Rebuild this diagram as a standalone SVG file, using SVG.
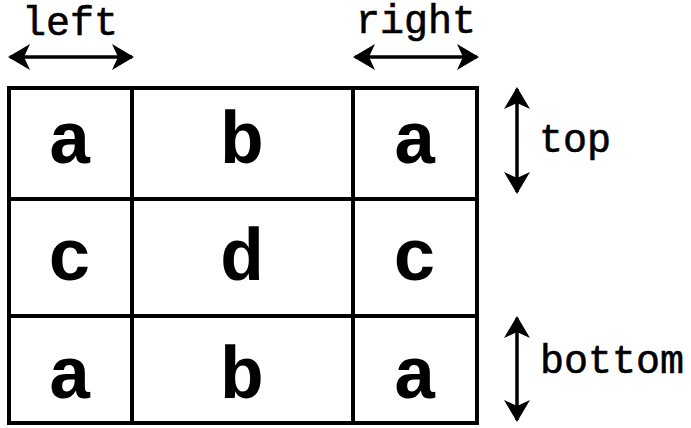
<svg xmlns="http://www.w3.org/2000/svg" width="691" height="428" viewBox="0 0 691 428">
  <defs>
    <marker id="head" viewBox="0 0 22 26" refX="20" refY="13" markerWidth="22" markerHeight="26" markerUnits="userSpaceOnUse" orient="auto-start-reverse">
      <path d="M0,0 L22,13 L0,26 L6,13 Z" fill="#000"/>
    </marker>
  </defs>
  <style>
    .grid { fill: none; stroke: #000; stroke-width: 4; }
    .cell { font-family: "Courier New", Courier, "Nimbus Mono PS", FreeMono, "Liberation Mono", monospace; font-weight: bold; font-size: 74px; text-anchor: middle; fill: #000; }
    .label { font-family: "Courier New", Courier, "Nimbus Mono PS", FreeMono, "Liberation Mono", monospace; font-size: 40px; fill: #000; stroke: #000; stroke-width: 0.6; }
    .arrow { stroke: #000; stroke-width: 3.5; fill: none; marker-start: url(#head); marker-end: url(#head); }
  </style>
  <rect width="691" height="428" fill="#fff"/>

  <!-- 3x3 tiling grid -->
  <g id="grid">
    <rect class="grid" x="9" y="88" width="468" height="335"/>
    <line class="grid" x1="132" y1="88" x2="132" y2="423"/>
    <line class="grid" x1="353" y1="88" x2="353" y2="423"/>
    <line class="grid" x1="9" y1="199" x2="477" y2="199"/>
    <line class="grid" x1="9" y1="316" x2="477" y2="316"/>
  </g>

  <g id="cells">
    <text class="cell" x="70" y="163">a</text>
    <text class="cell" x="242" y="163">b</text>
    <text class="cell" x="415" y="163">a</text>
    <text class="cell" x="70" y="280">c</text>
    <text class="cell" x="242" y="280">d</text>
    <text class="cell" x="415" y="280">c</text>
    <text class="cell" x="70" y="398">a</text>
    <text class="cell" x="242" y="398">b</text>
    <text class="cell" x="415" y="398">a</text>
  </g>

  <!-- dimension arrows -->
  <g id="connectors">
    <line class="arrow" x1="10" y1="57" x2="132" y2="57"/>
    <line class="arrow" x1="355" y1="57" x2="477" y2="57"/>
    <line class="arrow" x1="517" y1="89" x2="517" y2="192"/>
    <line class="arrow" x1="517" y1="318" x2="517" y2="420"/>
  </g>

  <g id="left"><text class="label" x="70" y="35" text-anchor="middle">left</text></g>
  <g id="right"><text class="label" x="416" y="33" text-anchor="middle">right</text></g>
  <g id="top"><text class="label" x="539" y="152">top</text></g>
  <g id="bottom"><text class="label" x="540" y="373">bottom</text></g>
</svg>
